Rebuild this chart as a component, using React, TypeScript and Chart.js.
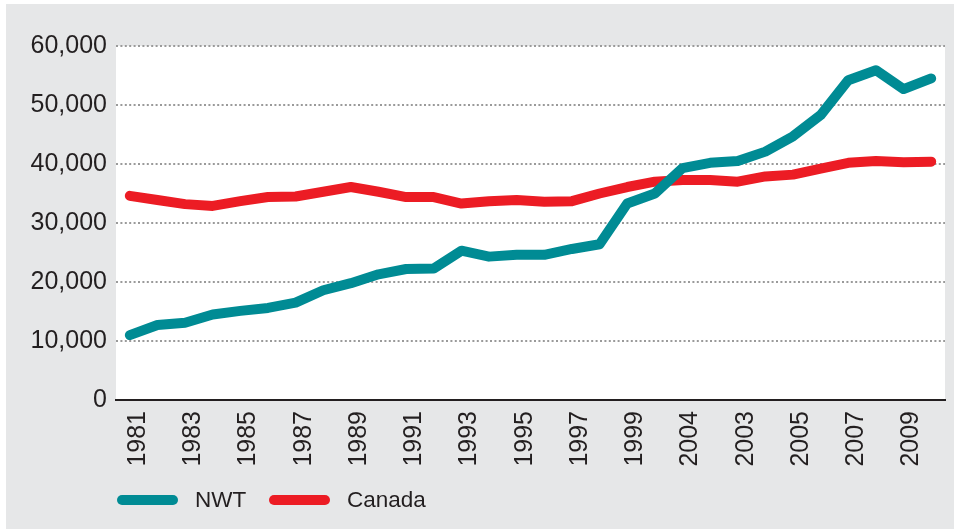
import React, { useEffect, useRef } from 'react';
import { Chart, registerables } from 'chart.js';

Chart.register(...registerables);

// Categories (years) and the tick labels as printed on the original chart
const years = [
  '1981', '1982', '1983', '1984', '1985', '1986', '1987', '1988', '1989', '1990',
  '1991', '1992', '1993', '1994', '1995', '1996', '1997', '1998', '1999', '2000',
  '2001', '2002', '2003', '2004', '2005', '2006', '2007', '2008', '2009', '2010',
];
const tickLabels = [
  '1981', '', '1983', '', '1985', '', '1987', '', '1989', '',
  '1991', '', '1993', '', '1995', '', '1997', '', '1999', '',
  '2004', '', '2003', '', '2005', '', '2007', '', '2009', '',
];

const nwtValues = [
  11000, 12700, 13100, 14500, 15100, 15600, 16500, 18600, 19800, 21300,
  22200, 22300, 25300, 24300, 24600, 24600, 25600, 26400, 33300, 35000,
  39300, 40200, 40500, 42100, 44700, 48300, 54200, 55900, 52700, 54500,
];
const canadaValues = [
  34600, 33900, 33200, 32900, 33700, 34400, 34500, 35300, 36100, 35300,
  34400, 34400, 33300, 33700, 33900, 33600, 33700, 35000, 36100, 37000,
  37300, 37300, 37000, 37900, 38200, 39200, 40200, 40500, 40300, 40400,
];

const seriesLabels = ['NWT', 'Canada'];
const seriesColors = ['#008b94', '#ec1c24'];
const yMin = 0;
const yMax = 60000;
const yStep = 10000;

const FONT = "'Liberation Sans', Arial, Helvetica, sans-serif";
const TEXT_COLOR = '#231f20';
const BG = '#e6e7e8';

const plotBackground = {
  id: 'plotBackground',
  beforeDraw(chart: any) {
    const { ctx, chartArea } = chart;
    if (!chartArea) return;
    ctx.save();
    ctx.fillStyle = '#ffffff';
    ctx.fillRect(chartArea.left, chartArea.top, chartArea.right - chartArea.left, chartArea.bottom - chartArea.top);
    ctx.restore();
  },
};

export default function App() {
  const canvasRef = useRef<HTMLCanvasElement | null>(null);

  useEffect(() => {
    const canvas = canvasRef.current;
    if (!canvas) return;
    const chart = new Chart(canvas, {
      type: 'line',
      data: {
        labels: years,
        datasets: [
          {
            label: seriesLabels[0],
            data: nwtValues,
            borderColor: seriesColors[0],
            backgroundColor: seriesColors[0],
            borderWidth: 10,
            borderCapStyle: 'round',
            borderJoinStyle: 'round',
            pointRadius: 0,
            tension: 0,
          },
          {
            label: seriesLabels[1],
            data: canadaValues,
            borderColor: seriesColors[1],
            backgroundColor: seriesColors[1],
            borderWidth: 10,
            borderCapStyle: 'round',
            borderJoinStyle: 'round',
            pointRadius: 0,
            tension: 0,
          },
        ],
      },
      options: {
        responsive: false,
        animation: false,
        layout: { padding: { left: 0, right: 9, top: 42, bottom: 0 } },
        plugins: {
          legend: { display: false },
          tooltip: { enabled: false },
        },
        scales: {
          x: {
            type: 'category',
            offset: true,
            grid: { display: false, drawTicks: false },
            border: { display: true, color: TEXT_COLOR, width: 2 },
            ticks: {
              autoSkip: false,
              maxRotation: 90,
              minRotation: 90,
              padding: 11,
              labelOffset: 8,
              color: TEXT_COLOR,
              font: { family: FONT, size: 25 },
              callback: (_v: any, i: number) => tickLabels[i],
            },
            afterFit: (scale: any) => {
              scale.height = 129;
              scale.paddingLeft = 0;
              scale.paddingRight = 0;
            },
          },
          y: {
            min: yMin,
            max: yMax,
            grid: { color: '#9a9a9a', lineWidth: 2, drawTicks: false },
            border: { display: false, dash: [2, 2.4] },
            ticks: {
              stepSize: yStep,
              padding: 9,
              color: TEXT_COLOR,
              font: { family: FONT, size: 25 },
              callback: (v: any) => Number(v).toLocaleString('en-US'),
            },
            afterFit: (scale: any) => {
              scale.width = 110;
              scale.paddingTop = 0;
              scale.paddingBottom = 0;
            },
          },
        },
      },
      plugins: [plotBackground],
    } as any);
    return () => chart.destroy();
  }, []);

  const legendItem = (i: number, left: number) => (
    <div
      key={i}
      style={{ position: 'absolute', left, top: 480, height: 32, display: 'flex', alignItems: 'center' }}
    >
      <div style={{ width: 61, height: 10, borderRadius: 5, background: seriesColors[i] }} />
      <span style={{ marginLeft: 17, fontFamily: FONT, fontSize: 22.5, color: TEXT_COLOR, lineHeight: '32px' }}>
        {seriesLabels[i]}
      </span>
    </div>
  );

  return (
    <div
      style={{
        position: 'absolute',
        left: 6,
        top: 4,
        width: 948,
        height: 525,
        background: BG,
        overflow: 'hidden',
      }}
    >
      <canvas ref={canvasRef} width={948} height={525} style={{ display: 'block', width: 948, height: 525 }} />
      {legendItem(0, 111)}
      {legendItem(1, 263)}
    </div>
  );
}
